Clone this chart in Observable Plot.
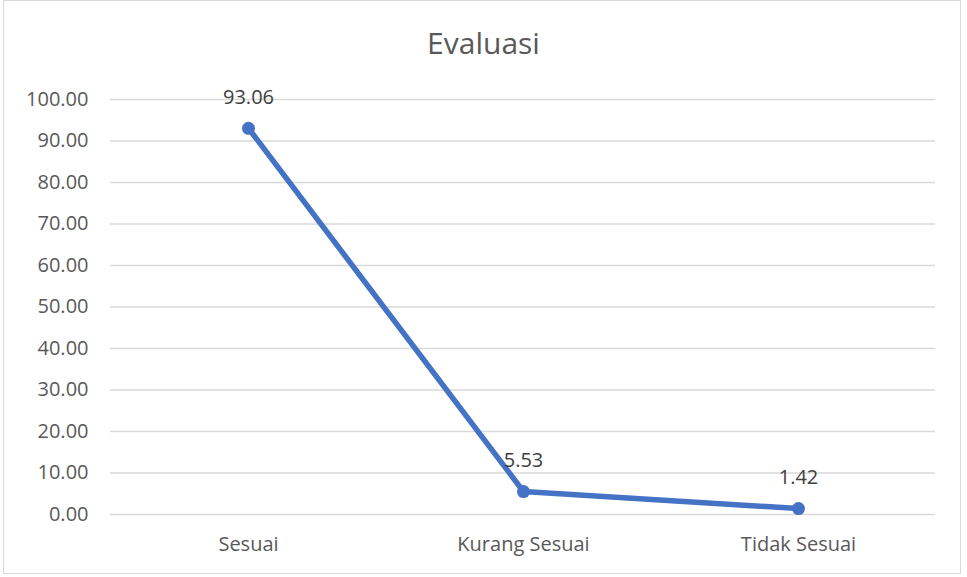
<!DOCTYPE html>
<html>
<head>
<meta charset="utf-8">
<script src="https://cdn.jsdelivr.net/npm/d3@7"></script>
<script src="https://cdn.jsdelivr.net/npm/@observablehq/plot@0.6"></script>
<style>
  html, body { margin: 0; padding: 0; background: #fff; }
  #wrap { position: relative; width: 967px; height: 577px; overflow: hidden; }
  #frame { position: absolute; left: 3px; top: 0px; width: 958px; height: 574px; border: 1.5px solid #d9d9d9; box-sizing: border-box; }
  #title { position: absolute; left: 0; width: 967px; top: 23px; line-height: 40px; text-align: center; font-family: "Open Sans", sans-serif; font-size: 30px; color: #595959; }
  svg { position: absolute; left: 0; top: 0; }
</style>
</head>
<body>
<div id="wrap">
  <div id="frame"></div>
  <div id="title">Evaluasi</div>
</div>
<script>
const categories = ["Sesuai", "Kurang Sesuai", "Tidak Sesuai"];
const values = [93.06, 5.53, 1.42];
const yTicks = [0, 10, 20, 30, 40, 50, 60, 70, 80, 90, 100];

const data = categories.map((c, i) => ({cat: c, val: values[i]}));

const chart = Plot.plot({
  width: 967,
  height: 577,
  marginTop: 99,
  marginBottom: 63,
  marginLeft: 110,
  marginRight: 32,
  style: {fontFamily: "'Open Sans', sans-serif", fontSize: "20px", color: "#595959", background: "transparent"},
  x: {type: "point", domain: categories, padding: 0.5, label: null},
  y: {domain: [0, 100], label: null},
  marks: [
    Plot.gridY(yTicks, {stroke: "#d9d9d9", strokeOpacity: 1, strokeWidth: 1.5}),
    Plot.axisY(yTicks, {tickSize: 0, tickPadding: 22, tickFormat: d => d.toFixed(2), fill: "#595959", fontSize: 20, label: null}),
    Plot.axisX({tickSize: 0, tickPadding: 22, fill: "#595959", fontSize: 20, label: null}),
    Plot.line(data, {x: "cat", y: "val", stroke: "#4472C4", strokeWidth: 5.5, strokeLinecap: "round"}),
    Plot.dot(data, {x: "cat", y: "val", r: 6.5, fill: "#4472C4", stroke: "none"}),
    Plot.text(data, {x: "cat", y: "val", text: d => d.val.toFixed(2), dy: -31, fill: "#404040", fontSize: 20})
  ]
});
document.getElementById("wrap").appendChild(chart);
</script>
</body>
</html>
